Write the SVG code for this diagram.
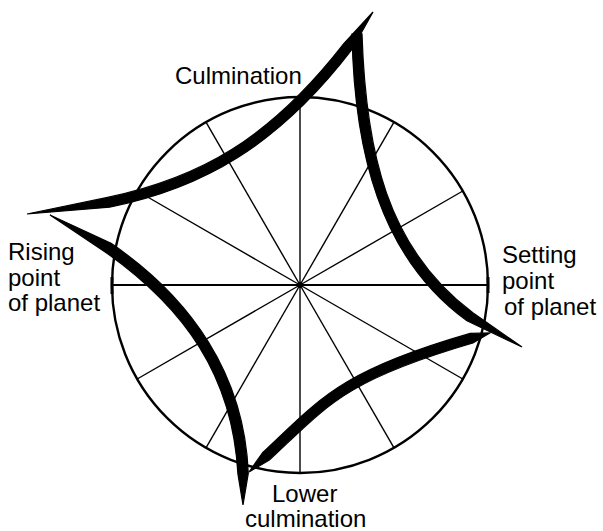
<svg xmlns="http://www.w3.org/2000/svg" width="603" height="531" viewBox="0 0 603 531">
<style>
.lbl{font-family:"Liberation Sans",Arial,sans-serif;font-size:24px;fill:#000}
.spoke{stroke:#000;stroke-width:1.4;fill:none}
.ring{stroke:#000;stroke-width:2.4;fill:none}
.arc{fill:#000;stroke:#000;stroke-width:1.2;stroke-linejoin:miter}
</style>
<rect width="603" height="531" fill="#fff"/>
<g id="dial">
<circle class="ring" cx="300" cy="285" r="188"/>
<line class="spoke" x1="300" y1="285" x2="300" y2="97"/>
<line class="spoke" x1="300" y1="285" x2="300" y2="473"/>
<line class="spoke" x1="112" y1="285" x2="488" y2="285" style="stroke-width:1.8"/>
<line class="spoke" x1="300" y1="285" x2="462.8" y2="191"/>
<line class="spoke" x1="300" y1="285" x2="394" y2="122.2"/>
<line class="spoke" x1="300" y1="285" x2="206" y2="122.2"/>
<line class="spoke" x1="300" y1="285" x2="137.2" y2="191"/>
<line class="spoke" x1="300" y1="285" x2="137.2" y2="379"/>
<line class="spoke" x1="300" y1="285" x2="206" y2="447.8"/>
<line class="spoke" x1="300" y1="285" x2="394" y2="447.8"/>
<line class="spoke" x1="300" y1="285" x2="462.8" y2="379"/>
<line x1="112" y1="277" x2="112" y2="294" stroke="#000" stroke-width="3"/>
<line x1="488" y1="277" x2="488" y2="293" stroke="#000" stroke-width="3"/>
<circle cx="300" cy="285" r="3" fill="#000"/>
</g>
<g id="path-curves">
<path id="curve-top-left" class="arc" d="M373,12 L351.94,49.46 C277.58,146.54 201.59,188.68 109.54,207.19 L27,214 L107.52,197.39 C199.37,177.9 268.88,139.82 344.02,43.34 Z"/>
<path id="curve-right" class="arc" d="M352,34.13 C354.23,150.86 379.68,257.47 466.94,320.83 L522,347 L472.87,312.78 C386.5,248.21 365.73,150.56 362,33.87 Z"/>
<path id="curve-left" class="arc" d="M50,215 L111.05,243.35 C191.61,298.26 244.53,375.19 248.28,473.34 L243,505 L237.9,473.82 C232.59,375.75 184.79,308.08 105.13,251.89 Z"/>
<path id="curve-bottom-right" class="arc" d="M249,472 L262.51,452.79 C320.49,398.28 339.95,371.06 470.14,333.42 L490,333 L472.94,343.02 C342.85,381.04 327.59,405.88 269.35,460.09 Z"/>
</g>
<g id="labels">
<text class="lbl" x="175" y="84">Culmination</text>
<text class="lbl" x="8" y="260">Rising</text>
<text class="lbl" x="8" y="286">point</text>
<text class="lbl" x="8" y="311">of planet</text>
<text class="lbl" x="502" y="263">Setting</text>
<text class="lbl" x="502" y="289">point</text>
<text class="lbl" x="504" y="315">of planet</text>
<text class="lbl" x="272" y="502">Lower</text>
<text class="lbl" x="245" y="527">culmination</text>
</g>
</svg>
